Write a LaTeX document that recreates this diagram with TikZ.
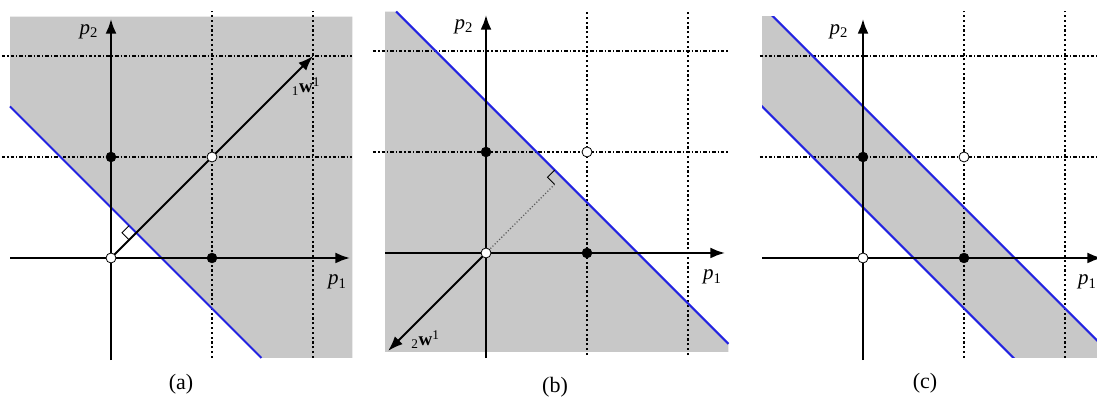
\documentclass[tikz,border=0pt]{standalone}
\usepackage{fontspec}
\setmainfont{Liberation Serif}
\usetikzlibrary{arrows.meta}
\definecolor{graybg}{RGB}{200,200,200}
\definecolor{sepblue}{RGB}{35,35,225}
\begin{document}
\begin{tikzpicture}[x=1pt,y=1pt,
 axis/.style={line width=2.8pt,-{Latex[length=15pt,width=11pt]}},
 gridh/.style={line width=1.3pt,dash pattern=on 3.5pt off 2pt on 1.2pt off 2pt},
 gridv/.style={line width=1.3pt,dash pattern=on 2.2pt off 2.6pt},
 sep/.style={sepblue,line width=2.1pt},
 wvec/.style={line width=2.1pt,-{Latex[length=15pt,width=11pt]}},
 ra/.style={line width=0.9pt},
 fpt/.style={circle,fill=black,draw=black,minimum size=10pt,inner sep=0pt},
 opt/.style={circle,fill=white,draw=black,line width=0.8pt,minimum size=10pt,inner sep=0pt},
 lbl/.style={font=\fontsize{21}{24}\selectfont,inner sep=0pt},
 wlbl/.style={font=\fontsize{19}{22}\selectfont,inner sep=0pt},
 captxt/.style={font=\fontsize{22}{26}\selectfont}]
\useasboundingbox (0,0) rectangle (1097,403);
\clip (0,0) rectangle (1097,403);
\fill[white] (0,0) rectangle (1097,403);

% ---------- panel (a) ----------
\begin{scope}[shift={(111pt,145pt)},x=101pt,y=101pt]
 \fill[graybg] (-1,1.5) -- (-1,2.39) -- (2.39,2.39) -- (2.39,-0.99) -- (1.49,-0.99) -- cycle;
 \draw[gridv] (1,-0.99) -- (1,2.45);
 \draw[gridv] (2,-0.99) -- (2,2.45);
 \draw[gridh] (-1.08,1) -- (2.39,1);
 \draw[gridh] (-1.08,2) -- (2.39,2);
 \draw[sep] (-1,1.5) -- (1.49,-0.99);
 \draw[axis] (-1,0) -- (2.37,0);
 \draw[axis] (0,-1.01) -- (0,2.37);
 \coordinate (ao) at (0,0);
 \coordinate (aw) at (2,2);
 \draw[wvec] (ao) -- (aw);
 \draw[ra] (0.179,0.179) -- (0.109,0.25) -- (0.179,0.321);
 \node[opt] (a00) at (ao) {};
 \node[fpt] (a01) at (0,1) {};
 \node[fpt] (a10) at (1,0) {};
 \node[opt] (a11) at (1,1) {};
 \node[lbl] (ap2) at (-0.22,2.24) {\textit{p}\textsubscript{2}};
 \node[lbl] (ap1) at (2.24,-0.24) {\textit{p}\textsubscript{1}};
 \node[wlbl] (awl) at (1.93,1.70) {\textsubscript{1}\textbf{w}\textsuperscript{1}};
\end{scope}

% ---------- panel (b) ----------
\begin{scope}[shift={(486pt,150pt)},x=101pt,y=101pt]
 \fill[graybg] (-1,-0.98) -- (-1,2.39) -- (-0.89,2.39) -- (2.40,-0.90) -- (2.40,-0.98) -- cycle;
 \draw[gridv] (1,-1.01) -- (1,2.41);
 \draw[gridv] (2,-1.01) -- (2,2.41);
 \draw[gridh] (-1.12,1) -- (2.40,1);
 \draw[gridh] (-1.12,2) -- (2.40,2);
 \draw[sep] (-0.89,2.39) -- (2.40,-0.90);
 \draw[axis] (-1,0) -- (2.37,0);
 \draw[axis] (0,-1.04) -- (0,2.36);
 \coordinate (bo) at (0,0);
 \coordinate (bw) at (-0.97,-0.97);
 \coordinate (bf) at (0.679,0.679);
 \draw[wvec] (bo) -- (bw);
 \draw[gray!70!black,line width=1.1pt,dotted] (bo) -- (bf);
 \draw[ra] (bf) -- (0.609,0.75) -- (0.679,0.821);
 \node[opt] (b00) at (bo) {};
 \node[fpt] (b01) at (0,1) {};
 \node[fpt] (b10) at (1,0) {};
 \node[opt] (b11) at (1,1) {};
 \node[lbl] (bp2) at (-0.22,2.24) {\textit{p}\textsubscript{2}};
 \node[lbl] (bp1) at (2.24,-0.24) {\textit{p}\textsubscript{1}};
 \node[wlbl] (bwl) at (-0.60,-0.86) {\textsubscript{2}\textbf{w}\textsuperscript{1}};
\end{scope}

% ---------- panel (c) ----------
\begin{scope}[shift={(863pt,145pt)},x=101pt,y=101pt]
 \begin{scope}
  \clip (-1,-0.99) rectangle (2.39,2.39);
  \fill[graybg] (-3,4.5) -- (4.5,-3) -- (3.5,-3) -- (-3,3.5) -- cycle;
 \end{scope}
 \draw[gridv] (1,-0.99) -- (1,2.45);
 \draw[gridv] (2,-0.99) -- (2,2.45);
 \draw[gridh] (-1.02,1) -- (2.5,1);
 \draw[gridh] (-1.02,2) -- (2.5,2);
 \begin{scope}
  \clip (-1,-0.99) rectangle (2.39,2.39);
  \draw[sep] (-3,4.5) -- (4.5,-3);
  \draw[sep] (-3,3.5) -- (3.5,-3);
 \end{scope}
 \draw[axis] (-1,0) -- (2.37,0);
 \draw[axis] (0,-1.01) -- (0,2.37);
 \node[opt] (c00) at (0,0) {};
 \node[fpt] (c01) at (0,1) {};
 \node[fpt] (c10) at (1,0) {};
 \node[opt] (c11) at (1,1) {};
 \node[lbl] (cp2) at (-0.24,2.24) {\textit{p}\textsubscript{2}};
 \node[lbl] (cp1) at (2.22,-0.24) {\textit{p}\textsubscript{1}};
\end{scope}

% ---------- captions ----------
\node[captxt] (capa) at (181,19) {(a)};
\node[captxt] (capb) at (555,16) {(b)};
\node[captxt] (capc) at (925,20) {(c)};
\end{tikzpicture}
\end{document}
